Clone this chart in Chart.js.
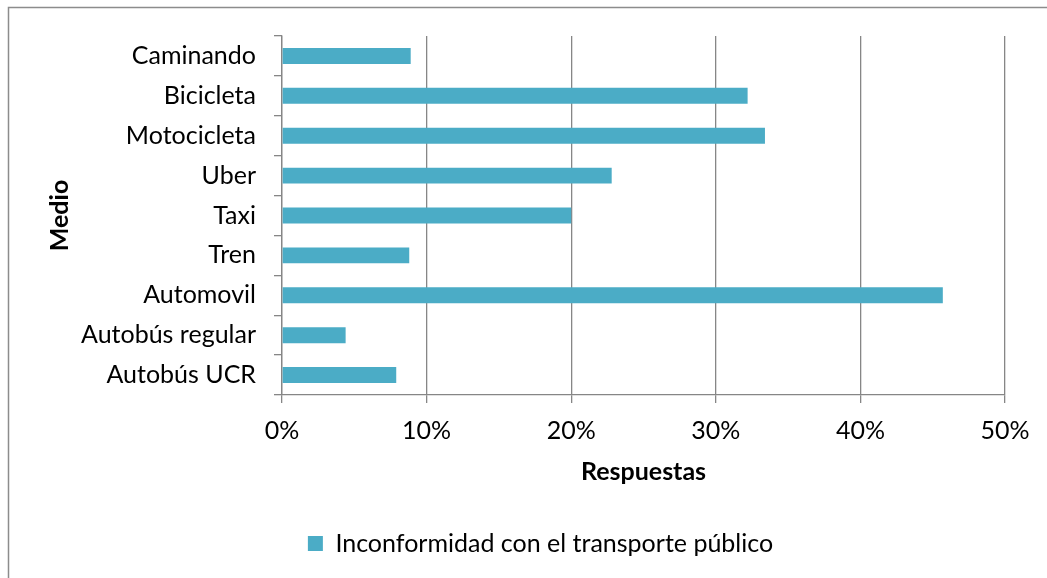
<!DOCTYPE html>
<html>
<head>
<meta charset="utf-8">
<script src="https://cdn.jsdelivr.net/npm/chart.js@4.4.0/dist/chart.umd.min.js"></script>
<style>
  body { margin: 0; background: #fff; }
  #wrap { width: 1047px; height: 578px; position: relative; }
</style>
</head>
<body>
<div id="wrap"><canvas id="chart"></canvas></div>
<script>
// data
const categories = ["Caminando", "Bicicleta", "Motocicleta", "Uber", "Taxi", "Tren", "Automovil", "Autobús regular", "Autobús UCR"];
const inconformidad = [8.9, 32.2, 33.4, 22.8, 20.0, 8.8, 45.7, 4.4, 7.9];
const xTicks = [0, 10, 20, 30, 40, 50];
const seriesName = "Inconformidad con el transporte público";

const FONT = "Lato";
const GRID = "#868686";

// frame of the chart box (only left and top edges show in the original crop)
const framePlugin = {
  id: "frame",
  beforeDraw(chart) {
    const ctx = chart.ctx;
    ctx.save();
    ctx.strokeStyle = "#8c8c8c";
    ctx.lineWidth = 1.5;
    ctx.beginPath();
    ctx.moveTo(8.5, chart.height);
    ctx.lineTo(8.5, 7.5);
    ctx.lineTo(chart.width, 7.5);
    ctx.stroke();
    ctx.restore();
  },
};

// the legend sits a bit right of the canvas centre in the original
const legendShift = {
  id: "legendShift",
  afterLayout(chart) {
    chart.legend.left += 28;
    chart.legend.right += 28;
  },
};

new Chart(document.getElementById("chart"), {
  type: "bar",
  data: {
    labels: categories,
    datasets: [
      {
        label: seriesName,
        data: inconformidad,
        backgroundColor: "#4BACC6",
        borderWidth: 0,
        barPercentage: 0.8,
        categoryPercentage: 0.5,
      },
    ],
  },
  options: {
    indexAxis: "y",
    responsive: true,
    maintainAspectRatio: false,
    animation: false,
    layout: { padding: { left: 20, top: 36, right: 42, bottom: 12 } },
    plugins: {
      tooltip: { enabled: false },
      legend: {
        position: "bottom",
        labels: {
          font: { family: FONT, size: 25 },
          color: "#000",
          boxWidth: 15,
          boxHeight: 15,
        },
      },
    },
    scales: {
      x: {
        min: 0,
        max: 50,
        afterBuildTicks: (scale) => {
          scale.ticks = xTicks.map((v) => ({ value: v }));
        },
        afterFit: (scale) => {
          scale.height = 126;
        },
        ticks: {
          callback: (v) => v + "%",
          font: { family: FONT, size: 25 },
          color: "#000",
          padding: 13,
          maxRotation: 0,
        },
        grid: { color: GRID, tickLength: 8, lineWidth: 1.3 },
        border: { color: GRID, width: 1.3 },
        title: {
          display: true,
          text: "Respuestas",
          font: { family: FONT, size: 25, weight: "bold" },
          color: "#000",
          padding: { top: 0, bottom: 34 },
        },
      },
      y: {
        afterFit: (scale) => {
          scale.width = 262;
        },
        ticks: {
          font: { family: FONT, size: 25 },
          color: "#000",
          padding: 18,
        },
        grid: { color: GRID, tickLength: 8, lineWidth: 1.3, drawOnChartArea: false, offset: true },
        border: { color: GRID, width: 1.3 },
        title: {
          display: true,
          text: "Medio",
          font: { family: FONT, size: 25, weight: "bold" },
          color: "#000",
          padding: { top: 25, bottom: 0 },
        },
      },
    },
  },
  plugins: [framePlugin, legendShift],
});
</script>
</body>
</html>
